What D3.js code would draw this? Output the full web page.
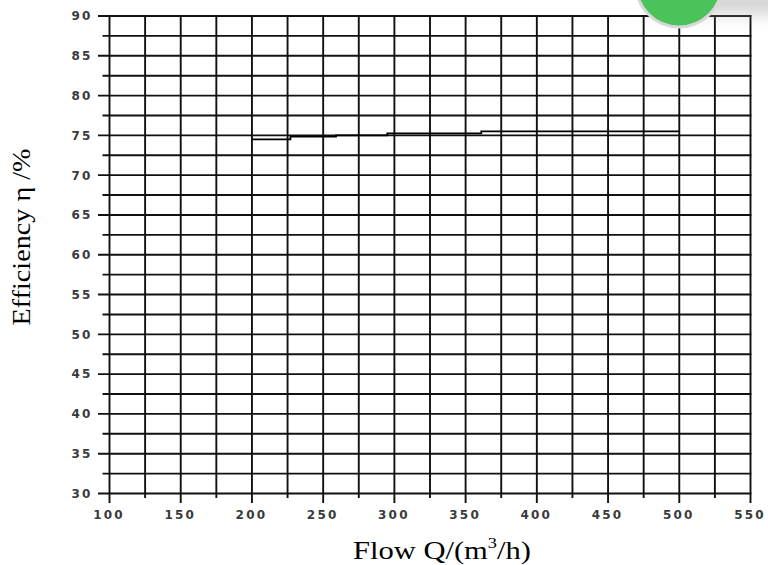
<!DOCTYPE html>
<html>
<head>
<meta charset="utf-8">
<script src="https://cdn.jsdelivr.net/npm/d3@7"></script>
<style>
html,body{margin:0;padding:0;background:#fff;}
svg{display:block;}
</style>
</head>
<body>
<svg id="chart" width="768" height="565"></svg>
<script>
// ---- data ----
const flowQ = [200, 227, 259, 295, 361, 500];
const efficiency = [74.5, 74.85, 75.0, 75.25, 75.5, 75.5];
const xTicks = [100, 150, 200, 250, 300, 350, 400, 450, 500, 550];
const xMinorTicks = [125, 175, 225, 275, 325, 375, 425, 475, 525];
const yTicks = [30, 35, 40, 45, 50, 55, 60, 65, 70, 75, 80, 85, 90];
const yMinorTicks = [32.5, 37.5, 42.5, 47.5, 52.5, 57.5, 62.5, 67.5, 72.5, 77.5, 82.5, 87.5];
const xTitle = "Flow Q/(m";
const yTitle = "Efficiency \u03b7 /%";

const svg = d3.select("#chart");
const x = d3.scaleLinear().domain([100, 550]).range([109.5, 750.5]);
const y = d3.scaleLinear().domain([30, 90]).range([493.5, 16]);

const defs = svg.append("defs");
const f = defs.append("filter").attr("id", "blur").attr("x", "-50%").attr("y", "-50%").attr("width", "200%").attr("height", "200%");
f.append("feGaussianBlur").attr("stdDeviation", 9);

const gridColor = "#111";
const gw = 1.9;
const g = svg.append("g");

g.selectAll(".hmaj").data(yTicks).join("line")
  .attr("x1", 98).attr("x2", x(550) + 0.9)
  .attr("y1", d => y(d)).attr("y2", d => y(d))
  .attr("stroke", gridColor).attr("stroke-width", gw);
g.selectAll(".hmin").data(yMinorTicks).join("line")
  .attr("x1", 102.5).attr("x2", x(550) + 0.9)
  .attr("y1", d => y(d)).attr("y2", d => y(d))
  .attr("stroke", gridColor).attr("stroke-width", gw);
g.selectAll(".vmaj").data(xTicks).join("line")
  .attr("x1", d => x(d)).attr("x2", d => x(d))
  .attr("y1", y(90) - 0.9).attr("y2", 503)
  .attr("stroke", gridColor).attr("stroke-width", gw);
g.selectAll(".vmin").data(xMinorTicks).join("line")
  .attr("x1", d => x(d)).attr("x2", d => x(d))
  .attr("y1", y(90) - 0.9).attr("y2", 498)
  .attr("stroke", gridColor).attr("stroke-width", gw);

const yAxis = svg.append("g").attr("transform", `translate(${x(100)},0)`)
  .call(d3.axisLeft(y).tickValues(yTicks).tickSize(0).tickPadding(17).tickFormat(d3.format("d")));
const xAxis = svg.append("g").attr("transform", `translate(0,${y(30)})`)
  .call(d3.axisBottom(x).tickValues(xTicks).tickSize(0).tickPadding(16.5).tickFormat(d3.format("d")));
[yAxis, xAxis].forEach(a => {
  a.select(".domain").remove();
  a.selectAll("text")
    .attr("font-family", "'DejaVu Sans', Verdana, sans-serif")
    .attr("font-size", 12)
    .attr("font-weight", "bold")
    .attr("letter-spacing", "2.2px")
    .attr("fill", "#3a3a3a");
});
xAxis.selectAll("text").attr("dx", -1);

const pts = flowQ.map((q, i) => [q, efficiency[i]]);
svg.append("path")
  .attr("d", d3.line().x(d => x(d[0])).y(d => y(d[1])).curve(d3.curveStepAfter)(pts))
  .attr("fill", "none").attr("stroke", "#000").attr("stroke-width", 1.8);

function stretch(sel, targetW) {
  const w = sel.node().getBBox().width;
  return targetW / w;
}
const xt = svg.append("text")
  .attr("text-anchor", "middle")
  .attr("font-family", "'Liberation Serif', 'Times New Roman', serif")
  .attr("font-size", 25).attr("fill", "#000");
xt.append("tspan").text(xTitle);
xt.append("tspan").attr("font-size", 15).attr("dy", -11).text("3");
xt.append("tspan").attr("dy", 11).text("/h)");
const sx = stretch(xt, 178);
xt.attr("transform", `translate(442,559) scale(${sx},1)`);

const yt = svg.append("text")
  .attr("text-anchor", "middle")
  .attr("font-family", "'Liberation Serif', 'Times New Roman', serif")
  .attr("font-size", 25).attr("fill", "#000")
  .text(yTitle);
const sy = stretch(yt, 177);
yt.attr("transform", `translate(30,237) rotate(-90) scale(${sy},1)`);

svg.append("rect").attr("x", 660).attr("y", -60).attr("width", 160).attr("height", 72)
  .attr("fill", "#9a9a9a").attr("opacity", 0.55).attr("filter", "url(#blur)");
svg.append("rect").attr("x", 655).attr("y", -60).attr("width", 160).attr("height", 62)
  .attr("fill", "#eeeeee").attr("filter", "url(#blur)").attr("opacity", 0.6);
svg.append("circle").attr("cx", 679).attr("cy", -16).attr("r", 43)
  .attr("fill", "#4cc25b").attr("stroke", "#d8d8d8").attr("stroke-width", 3);
</script>
</body>
</html>
